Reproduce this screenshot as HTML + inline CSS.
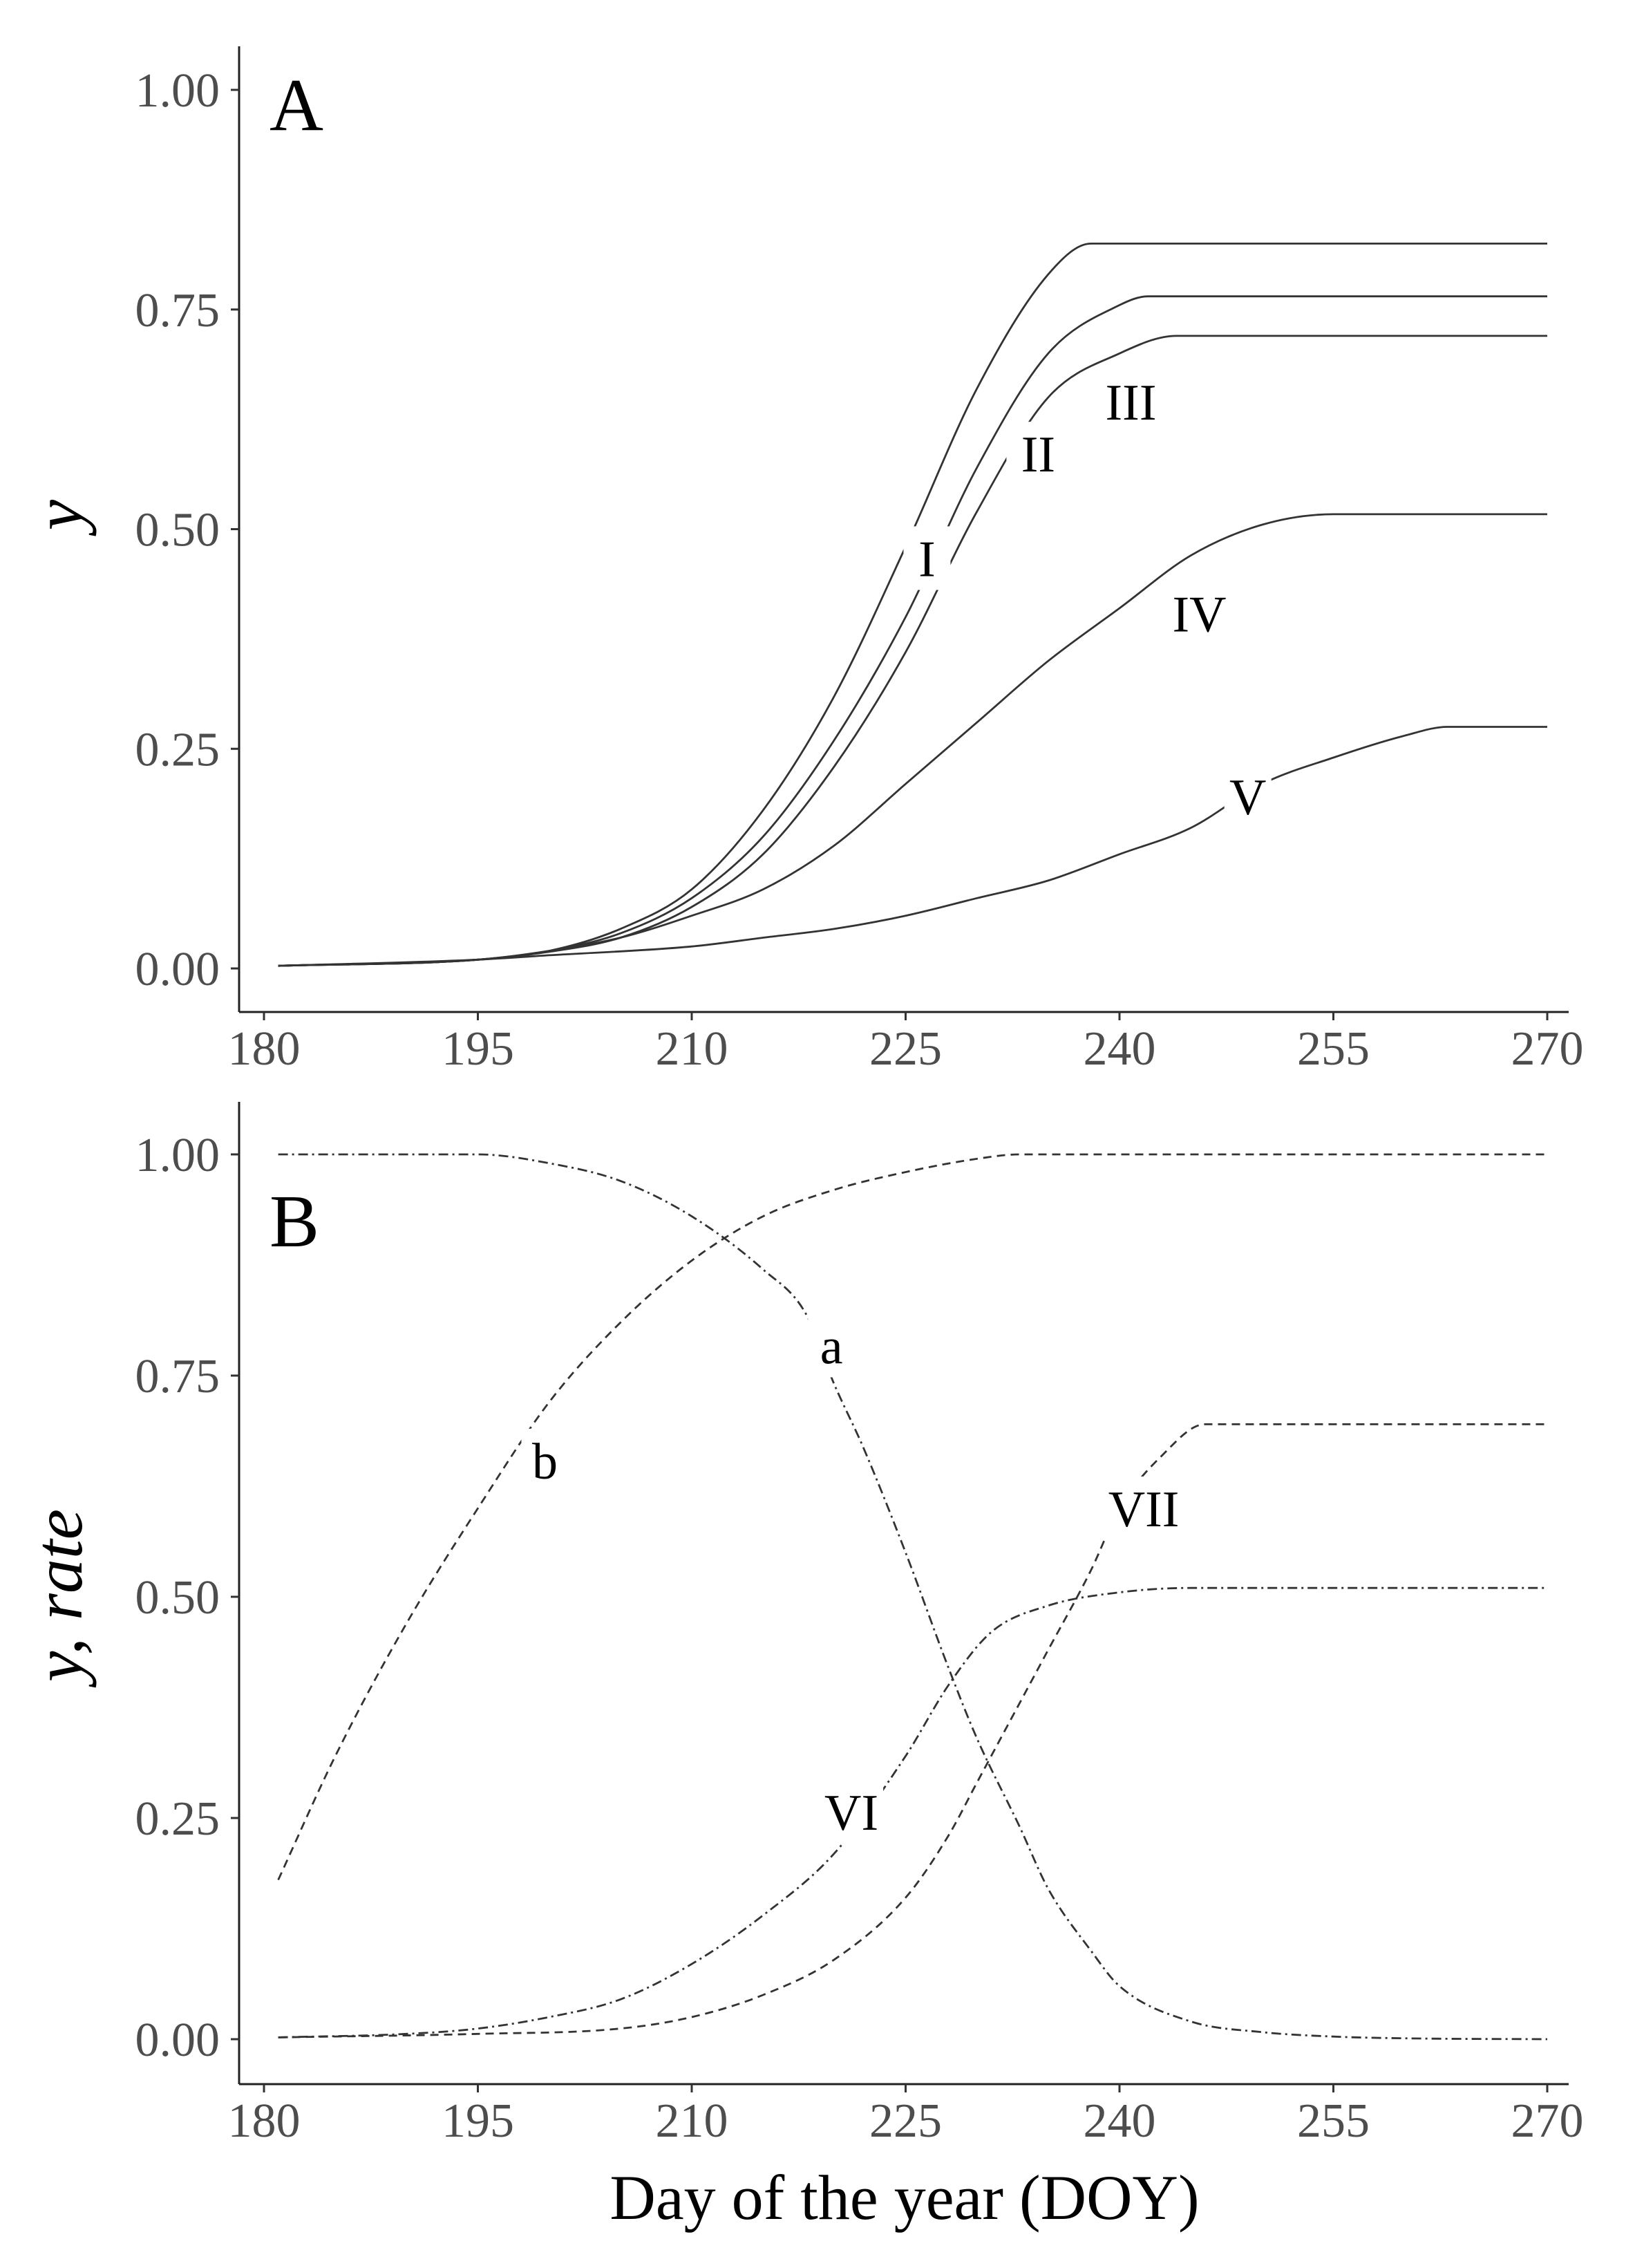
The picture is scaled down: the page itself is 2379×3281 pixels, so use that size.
<!DOCTYPE html>
<html><head><meta charset="utf-8"><style>
html,body{margin:0;padding:0;background:#fff}
svg{display:block}
text{font-family:"Liberation Serif",serif}
</style></head><body>
<svg id="c" width="2379" height="3281" viewBox="0 0 2379 3281" xmlns="http://www.w3.org/2000/svg"></svg>
<script>
const xTicks=[180,195,210,225,240,255,270];
const yTicks=[0,0.25,0.5,0.75,1.0];
const yTickLabels=["0.00","0.25","0.50","0.75","1.00"];
// Panel A curves
const daysI=[181,195,200,205,210,215,220,225,230,235,238,270];
const valsI=[0.003,0.01,0.02,0.045,0.09,0.18,0.31,0.48,0.66,0.79,0.825,0.825];
const daysII=[181,195,200,205,210,215,220,225,230,235,240,242,270];
const valsII=[0.003,0.01,0.02,0.04,0.08,0.15,0.26,0.40,0.57,0.70,0.755,0.765,0.765];
const daysIII=[181,195,200,205,210,215,220,225,230,235,240,244,270];
const valsIII=[0.003,0.01,0.019,0.035,0.07,0.13,0.23,0.36,0.52,0.65,0.70,0.72,0.72];
const daysIV=[181,195,200,205,210,215,220,225,230,235,240,245,250,255,270];
const valsIV=[0.003,0.01,0.02,0.035,0.06,0.09,0.14,0.21,0.28,0.35,0.41,0.47,0.505,0.517,0.517];
const daysV=[181,195,200,210,215,220,225,230,235,240,245,250,255,260,263,270];
const valsV=[0.003,0.01,0.015,0.025,0.035,0.045,0.06,0.08,0.10,0.13,0.16,0.21,0.24,0.265,0.275,0.275];
// Panel B curves
const daysA=[181,195,200,205,210,215,218,220,222,225,228,230,233,235,238,240,245,250,255,260,270];
const valsA=[1.0,1.0,0.99,0.97,0.93,0.87,0.82,0.74,0.67,0.55,0.42,0.34,0.24,0.17,0.10,0.06,0.02,0.008,0.003,0.001,0];
const daysB=[181,185,190,195,200,205,210,215,220,225,230,233,270];
const valsB=[0.18,0.32,0.47,0.60,0.72,0.81,0.88,0.93,0.96,0.98,0.995,1.0,1.0];
const daysVI=[181,190,195,200,205,210,215,220,225,228,231,235,240,245,270];
const valsVI=[0.002,0.006,0.012,0.025,0.045,0.085,0.14,0.21,0.32,0.40,0.46,0.49,0.505,0.51,0.51];
const daysVII=[181,195,205,210,215,220,225,228,230,233,235,238,240,243,246,270];
const valsVII=[0.002,0.006,0.012,0.025,0.05,0.09,0.16,0.23,0.29,0.38,0.44,0.53,0.60,0.66,0.695,0.695];
const labelsA=["I","II","III","IV","V"];
const labelAX=[226.5,234.3,240.8,245.6,249];
const labelAY=[0.467,0.586,0.645,0.404,0.196];
const labelsB=["a","b","VII","VI"];
const labelBX=[219.8,199.7,241.7,221.2];
const labelBY=[0.784,0.654,0.60,0.257];

const NS="http://www.w3.org/2000/svg";
const svg=document.getElementById('c');
function el(t,a,p){const e=document.createElementNS(NS,t);for(const k in a)e.setAttribute(k,a[k]);(p||svg).appendChild(e);return e;}
const xS=d=>382+(d-180)*(2239-382)/90;

function monoPath(xs,ys){
  const n=xs.length,d=[],m=new Array(n);
  for(let i=0;i<n-1;i++)d.push((ys[i+1]-ys[i])/(xs[i+1]-xs[i]));
  m[0]=d[0];m[n-1]=d[n-2];
  for(let i=1;i<n-1;i++){m[i]=(d[i-1]*d[i]<=0)?0:(d[i-1]+d[i])/2;}
  for(let i=0;i<n-1;i++){if(d[i]===0){m[i]=0;m[i+1]=0;}else{const a=m[i]/d[i],b=m[i+1]/d[i],s=a*a+b*b;if(s>9){const t=3/Math.sqrt(s);m[i]=t*a*d[i];m[i+1]=t*b*d[i];}}}
  let p='M'+xs[0].toFixed(1)+','+ys[0].toFixed(1);
  for(let i=0;i<n-1;i++){const h=(xs[i+1]-xs[i])/3;
    p+=' C'+(xs[i]+h).toFixed(1)+','+(ys[i]+m[i]*h).toFixed(1)+' '+(xs[i+1]-h).toFixed(1)+','+(ys[i+1]-m[i+1]*h).toFixed(1)+' '+xs[i+1].toFixed(1)+','+ys[i+1].toFixed(1);}
  return p;
}

function panel(name,top,y0,y1,axisBottom,curves,labels,lx,ly,letter,letterY,ylab,ylabY){
  const yS=v=>y0+(y1-y0)*v;
  const g=el('g',{});
  
  
  const ax=el('line',{x1:346,y1:top,x2:346,y2:axisBottom,stroke:'#222','stroke-width':3},g);
  
  
  const bx=el('line',{x1:346,y1:axisBottom,x2:2270,y2:axisBottom,stroke:'#222','stroke-width':3},g);
  
  
  yTicks.forEach((v,i)=>{
    el('line',{x1:334,x2:346,y1:yS(v),y2:yS(v),stroke:'#333','stroke-width':3},g);
    const t=el('text',{x:318,y:yS(v)+24,'text-anchor':'end','font-size':70,fill:'#4d4d4d'},g);
    t.textContent=yTickLabels[i];
    
    
  });
  xTicks.forEach(d=>{
    el('line',{x1:xS(d),x2:xS(d),y1:axisBottom,y2:axisBottom+12,stroke:'#333','stroke-width':3},g);
    const t=el('text',{x:xS(d),y:axisBottom+76,'text-anchor':'middle','font-size':70,fill:'#4d4d4d'},g);
    t.textContent=d;
    
    
  });
  curves.forEach(c=>{
    const p=el('path',{d:monoPath(c.d.map(xS),c.v.map(yS)),fill:'none',stroke:'#333','stroke-width':2.8,'stroke-dasharray':c.dash||'none','stroke-linejoin':'round'},g);
    
    
  });
  labels.forEach((s,i)=>{
    const w=s.length*24+44;
    el('rect',{x:xS(lx[i])-w/2,y:yS(ly[i])-46,width:w,height:92,fill:'#fff'},g);
    const t=el('text',{x:xS(lx[i]),y:yS(ly[i])+26,'text-anchor':'middle','font-size':74,fill:'#000'},g);
    t.textContent=s;
    
    
  });
  const L=el('text',{x:390,y:letterY,'font-size':108,fill:'#000'},g);
  L.textContent=letter;
  
  
  const yl=el('text',{x:0,y:0,transform:`translate(118,${ylabY}) rotate(-90)`,'text-anchor':'middle','font-size':100,fill:'#000','font-style':'italic'},g);
  yl.textContent=ylab;
  
  
}
panel('a',67,1401,130,1464,[
  {n:'I',d:daysI,v:valsI},{n:'II',d:daysII,v:valsII},{n:'III',d:daysIII,v:valsIII},
  {n:'IV',d:daysIV,v:valsIV},{n:'V',d:daysV,v:valsV}],
  labelsA,labelAX,labelAY,'A',188,'y',745);
panel('b',1594,2950,1670,3015,[
  {n:'a',d:daysA,v:valsA,dash:'14,6,3,6'},{n:'b',d:daysB,v:valsB,dash:'12,8'},
  {n:'VI',d:daysVI,v:valsVI,dash:'14,6,3,6'},{n:'VII',d:daysVII,v:valsVII,dash:'12,8'}],
  labelsB,labelBX,labelBY,'B',1803,'y, rate',2308);
const xt=el('text',{x:1309,y:3210,'text-anchor':'middle','font-size':92,fill:'#000'});
xt.textContent='Day of the year (DOY)';


</script>
</body></html>
